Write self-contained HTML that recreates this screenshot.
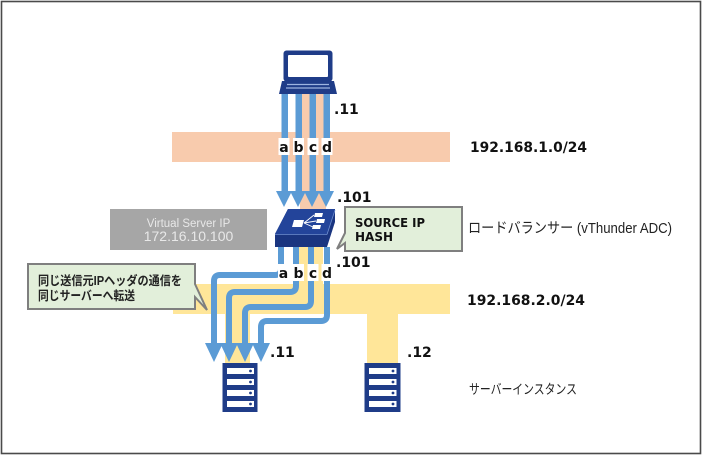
<!DOCTYPE html>
<html>
<head>
<meta charset="utf-8">
<style>
  html,body{margin:0;padding:0;background:#fff;}
  svg{display:block;}
  .b{font-family:"DejaVu Sans","Noto Sans CJK JP",sans-serif;font-weight:bold;fill:#111;}
  .j{font-family:"Liberation Sans","Noto Sans CJK JP",sans-serif;}
</style>
</head>
<body>
<svg width="704" height="459" viewBox="0 0 704 459" xmlns="http://www.w3.org/2000/svg">
  <rect x="0" y="0" width="704" height="459" fill="#fff"/>
  <!-- outer border -->
  <rect x="1.5" y="1.5" width="699" height="452" fill="none" stroke="#4a4a4a" stroke-width="1.6"/>

  <!-- network bands -->
  <rect x="172" y="132" width="278" height="30" fill="#f8cbad"/>
  <rect x="300" y="92" width="26" height="118" fill="#f8cbad"/>
  <rect x="173" y="284" width="277" height="30" fill="#ffe699"/>
  <rect x="297" y="246" width="26" height="40" fill="#ffe699"/>
  <rect x="225" y="312" width="25" height="52" fill="#ffe699"/>
  <rect x="367" y="312" width="31" height="52" fill="#ffe699"/>

  <!-- gray virtual server box -->
  <rect x="110" y="209" width="157" height="41" fill="#a6a6a6"/>
  <text x="188.5" y="227" text-anchor="middle" font-family="Liberation Sans, sans-serif" font-size="11.5" fill="#e8e8e8">Virtual Server IP</text>
  <text x="188.5" y="241" text-anchor="middle" font-family="Liberation Sans, sans-serif" font-size="14" fill="#e8e8e8">172.16.10.100</text>

  <!-- laptop -->
  <rect x="283.5" y="50.5" width="49" height="31" rx="3" fill="#1f3c88"/>
  <rect x="288" y="55" width="40" height="22" rx="1" fill="#fff"/>
  <polygon points="282,81 334,81 337,94 279,94" fill="#1f3c88"/>
  <line x1="287" y1="84.5" x2="329" y2="84.5" stroke="#9db4e0" stroke-width="1.3"/>
  <line x1="286" y1="88" x2="330" y2="88" stroke="#9db4e0" stroke-width="1.3"/>

  <!-- top arrows -->
  <g fill="#5b9bd5">
    <rect x="281.5" y="94" width="6.5" height="98"/>
    <rect x="295.5" y="94" width="6.5" height="98"/>
    <rect x="309.5" y="94" width="6.5" height="98"/>
    <rect x="323.5" y="94" width="6.5" height="98"/>
    <polygon points="276,191 292,191 284,207"/>
    <polygon points="290,191 306,191 298,207"/>
    <polygon points="304,191 320,191 312,207"/>
    <polygon points="318,191 334,191 326,207"/>
  </g>
  <!-- top labels -->
  <g fill="#fff">
    <rect x="278.5" y="138" width="11" height="17"/>
    <rect x="293" y="138" width="11" height="17"/>
    <rect x="307.5" y="138" width="11" height="17"/>
    <rect x="321.5" y="138" width="11" height="17"/>
  </g>
  <g class="b" font-size="14" text-anchor="middle">
    <text x="284" y="152">a</text>
    <text x="298.5" y="152">b</text>
    <text x="313" y="152">c</text>
    <text x="327" y="152">d</text>
  </g>

  <!-- load balancer -->
  <polygon points="288,209 335,209 335,222 327,247 275,247 275,234" fill="#1a3580"/>
  <polygon points="288,209 335,209 327,234 275,234" fill="#23449a"/>
  <line x1="275" y1="234.5" x2="327" y2="234.5" stroke="#6f8fd0" stroke-width="0.8"/>
  <line x1="327" y1="234.5" x2="335" y2="210" stroke="#6f8fd0" stroke-width="0.8"/>
  <polygon points="294,220 304,220 302,227 292,227" fill="#fff"/>
  <g stroke="#fff" stroke-width="0.9" fill="none">
    <line x1="304" y1="223" x2="314" y2="215"/>
    <line x1="304" y1="223" x2="316" y2="221"/>
    <line x1="304" y1="223" x2="313" y2="227"/>
  </g>
  <g fill="#fff">
    <polygon points="315,213 323,213 322,217 314,217"/>
    <polygon points="317,219 325,219 324,223 316,223"/>
    <polygon points="313,225 321,225 320,229 312,229"/>
  </g>

  <!-- bottom arrows -->
  <g fill="none" stroke="#5b9bd5" stroke-width="6" stroke-linejoin="round">
    <path d="M281,247 V269 Q281,275 275,275 H220 Q214,275 214,281 V346"/>
    <path d="M296,247 V286 Q296,292 290,292 H235 Q229,292 229,298 V346"/>
    <path d="M311,247 V301 Q311,307 305,307 H251 Q245,307 245,313 V346"/>
    <path d="M327,247 V315 Q327,321 321,321 H267 Q261,321 261,327 V346"/>
  </g>
  <g fill="#5b9bd5">
    <polygon points="205,343 223,343 214,362"/>
    <polygon points="220,343 238,343 229,362"/>
    <polygon points="236,343 254,343 245,362"/>
    <polygon points="252,343 270,343 261,362"/>
  </g>
  <!-- bottom labels -->
  <g fill="#fff">
    <rect x="278" y="264" width="11" height="17"/>
    <rect x="293" y="264" width="11" height="17"/>
    <rect x="307.5" y="264" width="11" height="17"/>
    <rect x="321.5" y="264" width="11" height="17"/>
  </g>
  <g class="b" font-size="14" text-anchor="middle">
    <text x="283.5" y="278">a</text>
    <text x="298.5" y="278">b</text>
    <text x="313" y="278">c</text>
    <text x="327" y="278">d</text>
  </g>

  <!-- servers -->
  <g>
    <rect x="222.5" y="363" width="35" height="49" fill="#1f3c88"/>
    <g fill="#fff">
      <rect x="227" y="368" width="27" height="6"/>
      <rect x="227" y="379" width="27" height="6"/>
      <rect x="227" y="390" width="27" height="6"/>
      <rect x="227" y="401" width="27" height="6"/>
    </g>
    <g fill="#1f3c88">
      <circle cx="250.5" cy="371" r="1.4"/>
      <circle cx="250.5" cy="382" r="1.4"/>
      <circle cx="250.5" cy="393" r="1.4"/>
      <circle cx="250.5" cy="404" r="1.4"/>
    </g>
  </g>
  <g>
    <rect x="364.5" y="363" width="36" height="49" fill="#1f3c88"/>
    <g fill="#fff">
      <rect x="369" y="368" width="27.5" height="6"/>
      <rect x="369" y="379" width="27.5" height="6"/>
      <rect x="369" y="390" width="27.5" height="6"/>
      <rect x="369" y="401" width="27.5" height="6"/>
    </g>
    <g fill="#1f3c88">
      <circle cx="393" cy="371" r="1.4"/>
      <circle cx="393" cy="382" r="1.4"/>
      <circle cx="393" cy="393" r="1.4"/>
      <circle cx="393" cy="404" r="1.4"/>
    </g>
  </g>

  <!-- SOURCE IP HASH callout -->
  <path d="M345,207 H462 V251 H345 V243 L337,249 L345,233 Z" fill="#e2efda" stroke="#7f7f7f" stroke-width="2" stroke-linejoin="miter"/>
  <text class="b" x="355" y="227" font-size="12" textLength="70" lengthAdjust="spacingAndGlyphs">SOURCE IP</text>
  <text class="b" x="355" y="241" font-size="12">HASH</text>

  <!-- left callout -->
  <path d="M28,264 H195 V284 L207,310 L195,297 V309 H28 Z" fill="#e2efda" stroke="#7f7f7f" stroke-width="2" stroke-linejoin="miter"/>
  <text class="j" x="38" y="285" font-size="12.5" font-weight="bold" fill="#222" textLength="144" lengthAdjust="spacingAndGlyphs">同じ送信元IPヘッダの通信を</text>
  <text class="j" x="38" y="300" font-size="12.5" font-weight="bold" fill="#222" textLength="97" lengthAdjust="spacingAndGlyphs">同じサーバーへ転送</text>

  <!-- address labels -->
  <g class="b" font-size="14">
    <text x="334" y="114">.11</text>
    <text x="337" y="202">.101</text>
    <text x="336" y="267">.101</text>
    <text x="270" y="357">.11</text>
    <text x="407" y="357">.12</text>
  </g>

  <!-- right side labels -->
  <text class="b" x="470" y="152" font-size="14" textLength="117" lengthAdjust="spacingAndGlyphs">192.168.1.0/24</text>
  <text class="b" x="467" y="305" font-size="14" textLength="118" lengthAdjust="spacingAndGlyphs">192.168.2.0/24</text>
  <text class="j" x="468" y="233" font-size="14.5" fill="#222" textLength="204" lengthAdjust="spacingAndGlyphs">ロードバランサー (vThunder ADC)</text>
  <text class="j" x="469" y="394" font-size="13.5" fill="#222" textLength="108" lengthAdjust="spacingAndGlyphs">サーバーインスタンス</text>
</svg>
</body>
</html>
